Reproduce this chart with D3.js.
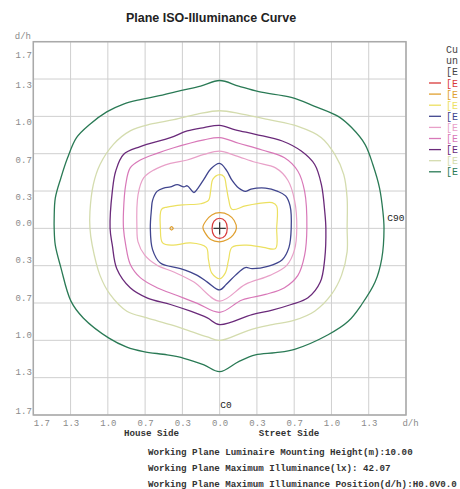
<!DOCTYPE html>
<html><head><meta charset="utf-8">
<script src="https://cdn.jsdelivr.net/npm/d3@7/dist/d3.min.js"></script>
<style>body{margin:0;background:#fff}svg{display:block}</style>
</head><body><svg id="c" width="460" height="489"></svg>
<script>
// ---------- data ----------
const gridValues = [-5/3, -4/3, -1, -2/3, -1/3, 0, 1/3, 2/3, 1, 4/3, 5/3]; // d/h
const xTickLabels = ["1.7","1.3","1.0","0.7","0.3","0.0","0.3","0.7","1.0","1.3","d/h"];
const yTickLabels = ["1.7","1.3","1.0","0.7","0.3","0.0","0.3","0.7","1.0","1.3","1.7"]; // bottom..top symmetric
const legendHeader = ["Cu", "un", "[E"];           // visible part of the legend header (cut at the page edge)
const levelNames = ["[E","[E","[E","[E","[E","[E","[E","[E","[E"];
const levelColors = ["#d83a3a","#e0a030","#ece060","#40458e","#e8a0c8","#d878b8","#6a2a7a","#d4dcae","#2a7a55"];
const infoLines = [
  "Working Plane Luminaire Mounting Height(m):10.00",
  "Working Plane Maximum Illuminance(lx): 42.07",
  "Working Plane Maximum Illuminance Position(d/h):H0.0V0.0"
];

// contour points [x d/h (street +), y d/h (up +)]
const cRed = [[0,0.09],[0.05,0.065],[0.068,0],[0.05,-0.065],[0,-0.09],[-0.05,-0.065],[-0.068,0],[-0.05,0.065]];
const cOrange = [[0,0.14],[0.08,0.12],[0.13,0.07],[0.15,0],[0.12,-0.06],[0.07,-0.10],[0,-0.12],[-0.08,-0.10],[-0.13,-0.04],[-0.15,0.01],[-0.12,0.07],[-0.07,0.12]];
const cOrangeIsland = [[-0.43,0.015],[-0.415,0],[-0.43,-0.015],[-0.445,0]];
const cYellow = [[0,0.48],[0.04,0.46],[0.06,0.37],[0.08,0.26],[0.11,0.17],[0.23,0.20],[0.34,0.22],[0.47,0.23],[0.51,0.20],[0.51,0],[0.50,-0.18],[0.39,-0.17],[0.24,-0.15],[0.11,-0.17],[0.08,-0.28],[0.05,-0.40],[0,-0.45],[-0.07,-0.40],[-0.10,-0.28],[-0.12,-0.17],[-0.26,-0.13],[-0.42,-0.15],[-0.51,-0.13],[-0.53,0],[-0.52,0.17],[-0.47,0.19],[-0.33,0.21],[-0.17,0.22],[-0.10,0.25],[-0.08,0.34],[-0.06,0.44]];
const cBlue = [[0,0.58],[0.06,0.52],[0.11,0.43],[0.17,0.36],[0.23,0.33],[0.28,0.35],[0.41,0.36],[0.52,0.33],[0.59,0.29],[0.63,0.20],[0.64,0],[0.62,-0.17],[0.56,-0.28],[0.43,-0.34],[0.29,-0.36],[0.23,-0.35],[0.14,-0.42],[0.06,-0.50],[0,-0.55],[-0.11,-0.48],[-0.20,-0.42],[-0.35,-0.36],[-0.53,-0.31],[-0.60,-0.19],[-0.62,0],[-0.61,0.17],[-0.60,0.25],[-0.56,0.33],[-0.50,0.36],[-0.44,0.37],[-0.38,0.39],[-0.32,0.37],[-0.29,0.38],[-0.23,0.32],[-0.20,0.35],[-0.14,0.44],[-0.08,0.53]];
const cPinkB = [[0,0.69],[0.14,0.65],[0.32,0.59],[0.50,0.54],[0.61,0.43],[0.67,0.25],[0.69,0],[0.67,-0.19],[0.60,-0.33],[0.45,-0.42],[0.23,-0.50],[0,-0.65],[-0.23,-0.48],[-0.41,-0.39],[-0.56,-0.33],[-0.67,-0.24],[-0.73,-0.12],[-0.74,0],[-0.73,0.30],[-0.68,0.45],[-0.59,0.52],[-0.44,0.58],[-0.29,0.61],[-0.14,0.66]];
const cPinkA = [[0,0.81],[0.17,0.76],[0.38,0.70],[0.58,0.63],[0.70,0.51],[0.76,0.33],[0.78,0],[0.76,-0.24],[0.70,-0.42],[0.58,-0.53],[0.41,-0.59],[0.20,-0.64],[0,-0.75],[-0.20,-0.67],[-0.38,-0.60],[-0.56,-0.53],[-0.71,-0.44],[-0.80,-0.32],[-0.84,-0.15],[-0.86,0],[-0.86,0.15],[-0.84,0.39],[-0.80,0.54],[-0.71,0.61],[-0.56,0.67],[-0.41,0.72],[-0.14,0.79]];
const cPurple = [[0,0.92],[0.14,0.88],[0.32,0.84],[0.56,0.78],[0.73,0.69],[0.85,0.57],[0.91,0.39],[0.94,0.15],[0.95,0],[0.94,-0.27],[0.90,-0.48],[0.79,-0.62],[0.64,-0.68],[0.47,-0.73],[0.29,-0.77],[0,-0.86],[-0.11,-0.80],[-0.26,-0.74],[-0.44,-0.68],[-0.65,-0.62],[-0.80,-0.53],[-0.92,-0.36],[-0.96,-0.15],[-0.98,0],[-0.96,0.33],[-0.93,0.51],[-0.86,0.66],[-0.71,0.73],[-0.44,0.81],[-0.29,0.87],[-0.14,0.90]];
const cLightGreen = [[0,1.05],[0.20,1.02],[0.44,0.97],[0.70,0.91],[0.91,0.81],[1.03,0.66],[1.11,0.48],[1.14,0.27],[1.14,0],[1.14,-0.21],[1.09,-0.42],[1.00,-0.59],[0.85,-0.74],[0.67,-0.82],[0.47,-0.86],[0.26,-0.91],[0,-1.00],[-0.11,-0.97],[-0.26,-0.92],[-0.44,-0.86],[-0.65,-0.80],[-0.83,-0.74],[-0.98,-0.59],[-1.07,-0.42],[-1.14,-0.15],[-1.16,0],[-1.16,0.15],[-1.13,0.39],[-1.07,0.57],[-0.95,0.75],[-0.80,0.87],[-0.62,0.93],[-0.41,0.97],[-0.20,1.02]];
const cGreen = [[0,1.32],[0.17,1.27],[0.35,1.22],[0.64,1.17],[0.85,1.09],[1.06,1.00],[1.18,0.90],[1.30,0.75],[1.37,0.57],[1.43,0.36],[1.46,0.15],[1.47,0],[1.45,-0.27],[1.39,-0.48],[1.27,-0.68],[1.15,-0.83],[0.97,-0.95],[0.67,-1.08],[0.50,-1.11],[0.32,-1.13],[0.17,-1.19],[0,-1.28],[-0.14,-1.22],[-0.32,-1.16],[-0.47,-1.13],[-0.68,-1.10],[-0.83,-1.06],[-0.99,-0.98],[-1.22,-0.80],[-1.33,-0.65],[-1.42,-0.35],[-1.47,-0.15],[-1.48,0],[-1.48,0.09],[-1.47,0.27],[-1.42,0.45],[-1.36,0.63],[-1.28,0.81],[-1.16,0.93],[-1.01,1.04],[-0.86,1.11],[-0.71,1.15],[-0.56,1.18],[-0.35,1.23],[-0.17,1.27]];

const contours = [
  {level:0, pts:cRed}, {level:1, pts:cOrange}, {level:1, pts:cOrangeIsland}, {level:2, pts:cYellow},
  {level:3, pts:cBlue}, {level:4, pts:cPinkB}, {level:5, pts:cPinkA}, {level:6, pts:cPurple},
  {level:7, pts:cLightGreen}, {level:8, pts:cGreen}
];

// ---------- drawing ----------
const svg = d3.select("#c");
const L = 33.3, R = 406, T = 41.7, B = 415;
const x = d3.scaleLinear().domain([-5/3, 5/3]).range([L, R]);
const y = d3.scaleLinear().domain([-5/3, 5/3]).range([B, T]);
const mono = "'Liberation Mono', 'DejaVu Sans Mono', monospace";

svg.append("text").attr("x", 211).attr("y", 22).attr("text-anchor","middle")
  .attr("font-family","'Liberation Sans', Arial, sans-serif").attr("font-size",12.5).attr("font-weight","bold")
  .attr("fill","#222").text("Plane ISO-Illuminance Curve");

// grid
const grid = svg.append("g");
grid.selectAll("line.v").data(gridValues).join("line").attr("class","v")
  .attr("x1", d => x(d)).attr("x2", d => x(d)).attr("y1", T).attr("y2", B)
  .attr("stroke","#cfcfcf").attr("stroke-width",1);
grid.selectAll("line.h").data(gridValues).join("line").attr("class","h")
  .attr("y1", d => y(d)).attr("y2", d => y(d)).attr("x1", L).attr("x2", R)
  .attr("stroke","#cfcfcf").attr("stroke-width",1);
svg.append("rect").attr("x",L).attr("y",T).attr("width",R-L).attr("height",B-T)
  .attr("fill","none").attr("stroke","#a9a9a9").attr("stroke-width",1.5);

// x axis labels
const xAxis = d3.axisBottom(x).tickValues(gridValues).tickSize(0).tickPadding(0)
  .tickFormat((d,i) => xTickLabels[i]);
const gx = svg.append("g").attr("transform", `translate(0,${B})`).call(xAxis);
gx.select(".domain").remove();
gx.selectAll("text").attr("font-family", mono).attr("font-size", 9).attr("fill","#8a8a8a")
  .attr("dy", 10.5)
  .attr("text-anchor", (d,i) => i === 0 ? "start" : "middle")
  .attr("dx", (d,i) => i === gridValues.length-1 ? 4 : 0);

// y axis labels
const yAxis = d3.axisLeft(y).tickValues(gridValues).tickSize(0).tickPadding(1.5)
  .tickFormat((d,i) => yTickLabels[i]);
const gy = svg.append("g").attr("transform", `translate(${L},0)`).call(yAxis);
gy.select(".domain").remove();
gy.selectAll("text").attr("font-family", mono).attr("font-size", 9).attr("fill","#8a8a8a")
  .attr("dy", (d,i) => {
    if (i === gridValues.length-1) return 16;
    if (i === 0) return -2;
    return d > 0.01 ? 8.5 : -3;
  });
svg.append("text").attr("x", 31).attr("y", 39).attr("text-anchor","end")
  .attr("font-family", mono).attr("font-size", 9).attr("fill","#8a8a8a").text("d/h");

// contours
const line = d3.line().x(d => x(d[0])).y(d => y(d[1])).curve(d3.curveCatmullRomClosed.alpha(0.5));
svg.append("g").selectAll("path").data(contours).join("path")
  .attr("d", d => line(d.pts)).attr("fill","none")
  .attr("stroke", d => levelColors[d.level]).attr("stroke-width", d => d.level >= 6 || d.level === 3 ? 1.3 : 1.2);

// center cross
const cross = [[-0.055,0,0.055,0],[0,-0.055,0,0.055]];
svg.append("g").selectAll("line").data(cross).join("line")
  .attr("x1", d => x(d[0])).attr("y1", d => y(d[1])).attr("x2", d => x(d[2])).attr("y2", d => y(d[3]))
  .attr("stroke","#333").attr("stroke-width",1.2);

// C90 / C0
svg.append("text").attr("x", x(1.5)).attr("y", y(0.065)).attr("font-family", mono).attr("font-size", 9.5)
  .attr("fill","#222").text("C90");
svg.append("text").attr("x", x(0.005)).attr("y", y(-1.6)).attr("font-family", mono).attr("font-size", 9.5)
  .attr("fill","#222").text("C0");

// side labels
svg.append("text").attr("x", x(-0.61)).attr("y", 436).attr("text-anchor","middle").attr("font-family", mono)
  .attr("font-size", 9.2).attr("font-weight","bold").attr("fill","#333").text("House Side");
svg.append("text").attr("x", x(0.62)).attr("y", 436).attr("text-anchor","middle").attr("font-family", mono)
  .attr("font-size", 9.2).attr("font-weight","bold").attr("fill","#333").text("Street Side");

// info lines
svg.append("g").selectAll("text").data(infoLines).join("text")
  .attr("x", 148).attr("y", (d,i) => 454.5 + i*16.2)
  .attr("font-family", mono).attr("font-size", 9.2).attr("font-weight","bold").attr("fill","#333").text(d => d);

// legend
const lg = svg.append("g");
lg.selectAll("text.h").data(legendHeader).join("text").attr("class","h")
  .attr("x", 446).attr("y", (d,i) => 53 + i*11.2)
  .attr("font-family", mono).attr("font-size", 10).attr("fill","#444").text(d => d);
lg.selectAll("line").data(levelNames).join("line")
  .attr("x1", 429).attr("x2", 441).attr("y1", (d,i) => 83 + i*11.1).attr("y2", (d,i) => 83 + i*11.1)
  .attr("stroke", (d,i) => levelColors[i]).attr("stroke-width", 1.3);
lg.selectAll("text.e").data(levelNames).join("text").attr("class","e")
  .attr("x", 446).attr("y", (d,i) => 86.5 + i*11.1)
  .attr("font-family", mono).attr("font-size", 10).attr("fill", (d,i) => levelColors[i]).text(d => d);
</script></body></html>
